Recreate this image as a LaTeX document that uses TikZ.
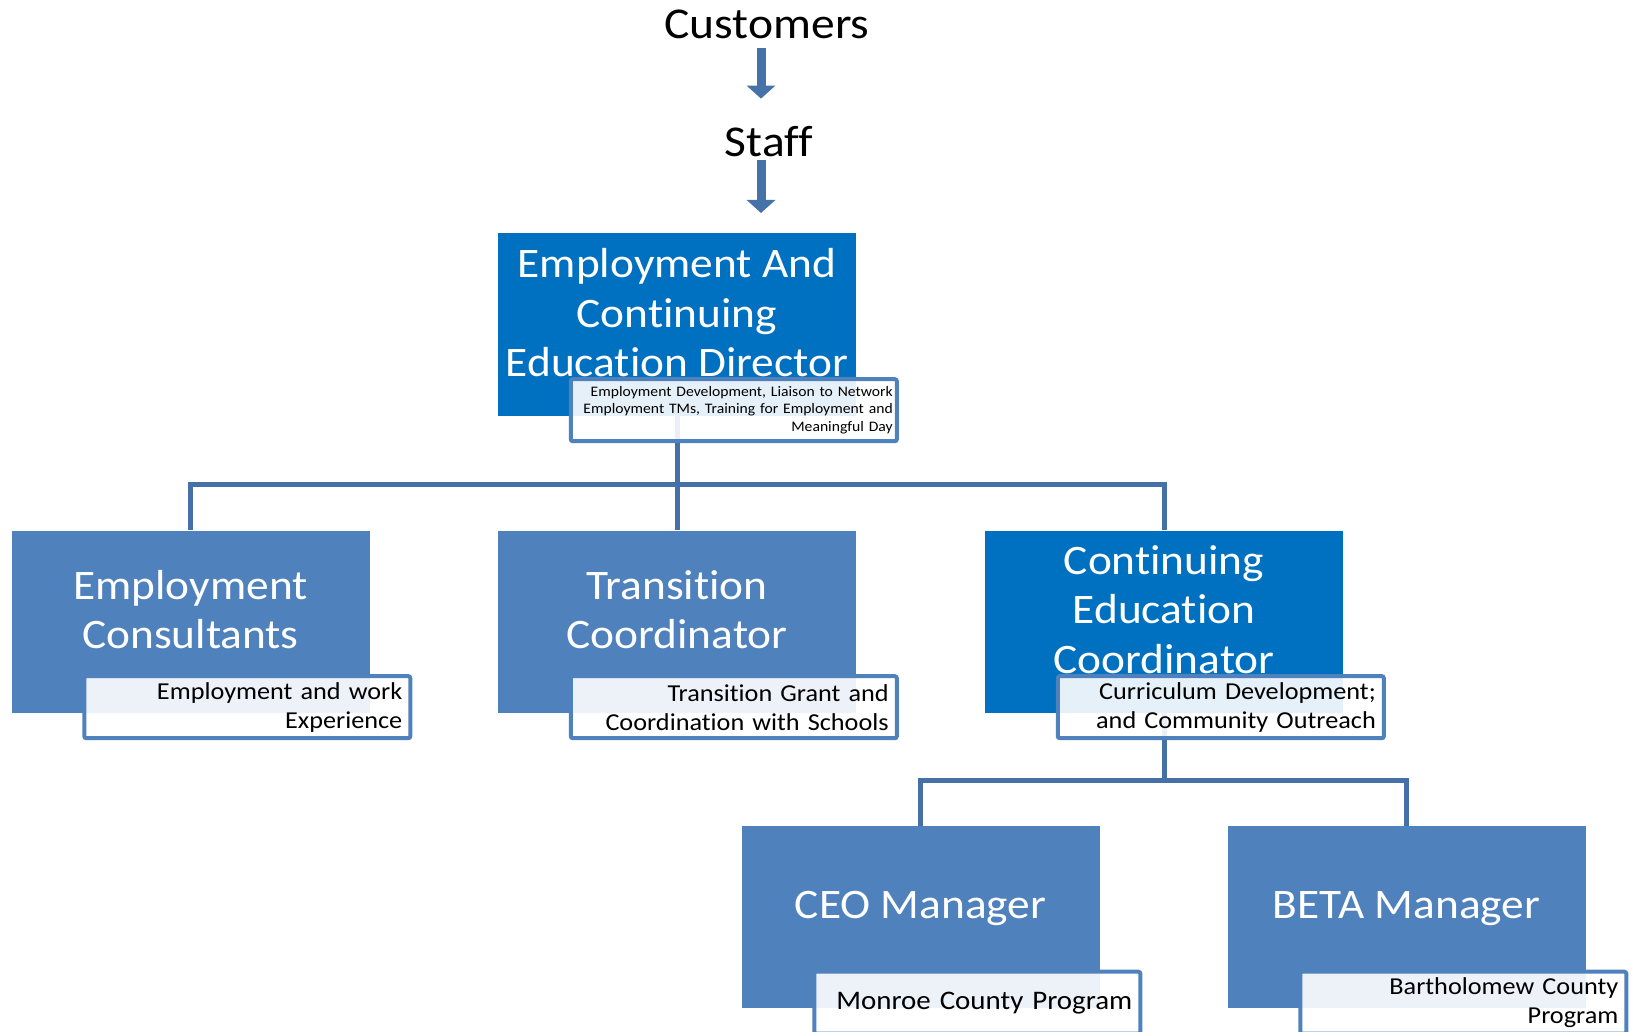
\documentclass[tikz,border=0pt]{standalone}
\usepackage{fontspec}
\setmainfont{Carlito}[FakeStretch = 1.08, Ligatures = NoCommon]
\usetikzlibrary{arrows.meta}

\definecolor{deepblue}{HTML}{0070C0}
\definecolor{midblue}{HTML}{4F81BD}
\definecolor{linkblue}{HTML}{4570A8}
\definecolor{arrowblue}{HTML}{4672AA}

\begin{document}
\begin{tikzpicture}[x = 1pt, y = -1pt,
  role/.style = {fill = midblue, text = white, minimum width = 358pt, minimum height = 182pt,
    align = center, inner sep = 0pt, text depth = 24pt, font = \fontsize{42}{49.5}\selectfont},
  lead/.style = {role, fill = deepblue},
  duty/.style = {draw = midblue, line width = 4pt, rounded corners = 2pt, fill = white,
    fill opacity = 0.9, text opacity = 1, minimum width = 326pt, minimum height = 62pt,
    inner sep = 4pt, text width = 310pt, align = right, anchor = north west,
    font = \fontsize{24.3}{29}\selectfont},
  link/.style = {draw = linkblue, line width = 5pt},
  flow/.style = {draw = arrowblue, line width = 9pt, -{Triangle[width = 28pt, length = 13pt]}},
  head/.style = {inner sep = 0pt, anchor = base, font = \fontsize{44}{50}\selectfont}]
\useasboundingbox (0, 0) rectangle (1633, 1032);

\node[head] (cust) at (767, 39) {Customers};
\node[head] (staff) at (769, 157) {Staff};
\draw[flow] ([shift = {(-6, 8)}]cust.south) -- ([shift = {(-8, -28)}]staff.north);
\draw[flow] ([shift = {(-8, 2)}]staff.south) -- (761, 213);

% boxes
\node[lead] (dir) at (677, 324.5) {Employment And\\Continuing\\Education Director};
\node[role] (ec) at (190.5, 621.5) {Employment\\Consultants};
\node[role] (tc) at (677, 621.5) {Transition\\Coordinator};
\node[lead] (cec) at (1164, 621.5) {Continuing\\Education\\Coordinator};
\node[role] (ceo) at (920.5, 917) {CEO Manager};
\node[role] (beta) at (1406.5, 917) {BETA Manager};

% connectors
\coordinate (bus1) at (677, 484);
\coordinate (bus2) at (1164, 780);
\draw[link] (dir.south) -- (bus1) -| (ec.north);
\draw[link] (bus1) -- (tc.north);
\draw[link] (bus1) -| (cec.north);
\draw[link] (cec.south) -- (bus2) -| (ceo.north);
\draw[link] (bus2) -| (beta.north);

% text boxes
\node[duty, text width = 318pt, font = \fontsize{14.5}{17.5}\selectfont] (dirnote) at ([shift = {(71, -38.5)}]dir.south west)
  {Employment Development, Liaison to Network\\Employment TMs, Training for Employment and\\Meaningful Day};
\node[duty] (ecnote) at ([shift = {(71, -38.5)}]ec.south west) {Employment and work\\Experience};
\node[duty] (tcnote) at ([shift = {(71, -38.5)}]tc.south west) {Transition Grant and\\Coordination with Schools};
\node[duty] (cecnote) at ([shift = {(71, -38.5)}]cec.south west) {Curriculum Development;\\and Community Outreach};
\node[duty, font = \fontsize{26.8}{32}\selectfont] (ceonote) at ([shift = {(71, -38.5)}]ceo.south west) {Monroe County Program};
\node[duty] (betanote) at ([shift = {(71, -38.5)}]beta.south west) {Bartholomew County\\Program};
\end{tikzpicture}
\end{document}
